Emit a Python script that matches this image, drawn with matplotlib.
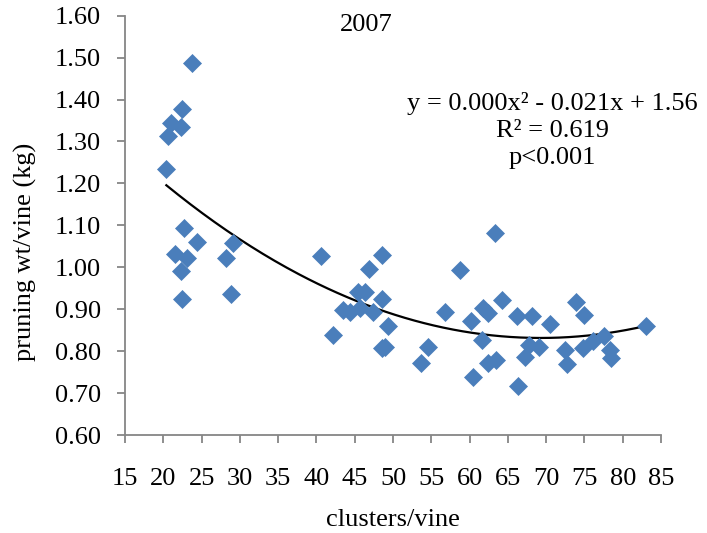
import numpy as np
import matplotlib
matplotlib.use("Agg")
import matplotlib.pyplot as plt

plt.rcParams['font.family'] = ['Liberation Serif', 'DejaVu Serif']

# clusters per vine vs pruning weight per vine, 2007
clusters = [
    23.8, 22.4, 21.0, 22.3, 20.6, 20.4,
    22.7, 24.35, 21.5, 23.05, 22.26, 22.5,
    29.1, 28.2, 28.9,
    40.65, 42.2, 43.5, 44.35, 45.65, 45.4, 46.3, 46.87, 47.4,
    48.5, 48.6, 49.3, 48.5, 48.9,
    53.7, 54.56, 56.83, 58.78,
    60.2, 60.5, 61.65, 61.8, 62.4, 62.4, 63.5, 63.3, 64.26,
    66.2, 66.3, 67.2, 67.8, 68.2, 69.1, 70.56,
    72.5, 72.7, 73.9, 74.9, 74.8, 76.1, 77.6, 78.3, 78.5, 83.0,
]
pruning_wt = [
    1.487, 1.377, 1.343, 1.335, 1.312, 1.234,
    1.093, 1.060, 1.031, 1.022, 0.990, 0.924,
    1.059, 1.022, 0.937,
    1.027, 0.839, 0.898, 0.894, 0.902, 0.940, 0.942, 0.995, 0.894,
    0.924, 1.030, 0.860, 0.807, 0.811,
    0.771, 0.811, 0.894, 0.994,
    0.871, 0.738, 0.827, 0.902, 0.891, 0.771, 0.779, 1.081, 0.921,
    0.883, 0.717, 0.787, 0.815, 0.884, 0.811, 0.864,
    0.803, 0.770, 0.918, 0.885, 0.807, 0.823, 0.835, 0.803, 0.783, 0.859,
]

x_ticks = list(range(15, 90, 5))
y_ticks = [0.60, 0.70, 0.80, 0.90, 1.00, 1.10, 1.20, 1.30, 1.40, 1.50, 1.60]

equation_lines = ["y = 0.000x\u00b2 - 0.021x + 1.56", "R\u00b2 = 0.619", "p<0.001"]

W, H = 707, 533
FS = 19
fig = plt.figure(figsize=(W / 100, H / 100), dpi=100)
ax = fig.add_axes([125 / W, 1 - 435 / H, (661 - 125) / W, (435 - 15.7) / H])

x = np.array(clusters)
y = np.array(pruning_wt)

# second-order polynomial trendline
coef = np.polyfit(x, y, 2)
xs = np.linspace(x.min(), x.max(), 200)
ax.plot(xs, np.polyval(coef, xs), color='black', lw=1.6, zorder=2)

ax.plot(x, y, linestyle='none', marker='D', markersize=9,
        markerfacecolor='#4A7EBB', markeredgecolor='#4A7EBB',
        markeredgewidth=0.5, zorder=3)

ax.set_xlim(15, 85)
ax.set_ylim(0.6, 1.6)
ax.set_xticks(x_ticks)
ax.set_xticklabels([str(v) for v in x_ticks])
ax.set_yticks(y_ticks)
ax.set_yticklabels([f"{v:.2f}" for v in y_ticks])

for side in ('top', 'right'):
    ax.spines[side].set_visible(False)
for side in ('left', 'bottom'):
    ax.spines[side].set_color('#868686')
    ax.spines[side].set_linewidth(1.3)

ax.tick_params(axis='both', colors='#868686', labelcolor='black',
               labelsize=FS, length=5.5, width=1.3, direction='out')
ax.tick_params(axis='y', pad=12)
ax.tick_params(axis='x', pad=18)

ax.set_xlabel("clusters/vine", fontsize=FS)
ax.set_ylabel("pruning wt/vine (kg)", fontsize=FS)
ax.xaxis.label.set_va('center')
ax.yaxis.label.set_va('center')
ax.xaxis.set_label_coords(393 / W, 1 - 520 / H, transform=fig.transFigure)
ax.yaxis.set_label_coords(25 / W, 1 - 252 / H, transform=fig.transFigure)

fig.text(366 / W, 1 - 31 / H, "2007", fontsize=FS, ha='center', va='baseline')
for line, base in zip(equation_lines, (110, 137, 164)):
    fig.text(552 / W, 1 - base / H, line, fontsize=FS, ha='center', va='baseline')

fig.savefig("out.png", dpi=100)
